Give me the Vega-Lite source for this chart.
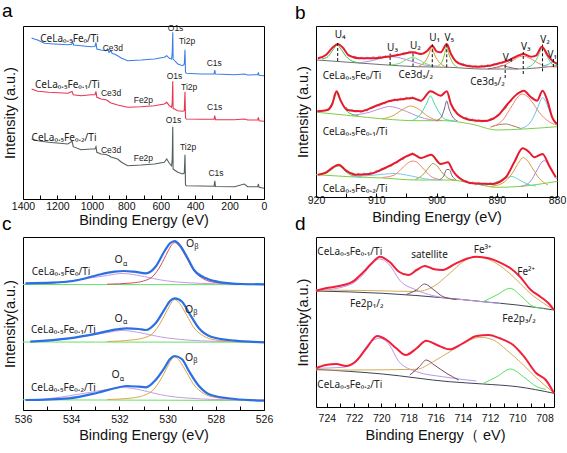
{
"$schema": "https://vega.github.io/schema/vega-lite/v6.json",
"padding": {"left": 1, "top": 1, "right": 0, "bottom": 0},
"autosize": {"type": "pad"},
"bounds": "flush",
"columns": 2,
"spacing": {"row": 38, "column": 52},
"resolve": {"scale": {"color": "independent"}},
"config": {
  "view": {"stroke": "#000", "strokeWidth": 1},
  "axis": {"grid": false, "domain": false, "tickColor": "#000", "tickSize": -4, "labelFont": "Liberation Sans", "labelFontSize": 10.5, "labelColor": "#111", "labelFlush": false, "labelOverlap": false, "titleFont": "Liberation Sans", "titleFontSize": 14.5, "titleFontWeight": "normal", "titleColor": "#111"},
  "axisY": {"ticks": false, "labels": false, "domain": false, "titlePadding": 6},
  "title": {"anchor": "start", "fontSize": 19, "fontWeight": "normal", "font": "Liberation Sans", "color": "#000", "offset": 3}
},
"datasets": {
"aL": [
{"s":"Fe0","E":1350,"h":161},{"s":"Fe0","E":1334,"h":160},{"s":"Fe0","E":1315,"h":159},{"s":"Fe0","E":1276,"h":155.7},{"s":"Fe0","E":1218,"h":155},{"s":"Fe0","E":1140,"h":154.3},{"s":"Fe0","E":1117,"h":154.8},{"s":"Fe0","E":1112,"h":157.5},{"s":"Fe0","E":1106,"h":154},{"s":"Fe0","E":1063,"h":153.3},{"s":"Fe0","E":1005,"h":152.3},{"s":"Fe0","E":982,"h":152.5},{"s":"Fe0","E":976,"h":156.5},{"s":"Fe0","E":971,"h":150},{"s":"Fe0","E":947,"h":149},{"s":"Fe0","E":918,"h":148.3},{"s":"Fe0","E":908,"h":150},{"s":"Fe0","E":900,"h":146.5},{"s":"Fe0","E":889,"h":148.3},{"s":"Fe0","E":882,"h":145.5},{"s":"Fe0","E":869,"h":145},{"s":"Fe0","E":850,"h":143.3},{"s":"Fe0","E":830,"h":141},{"s":"Fe0","E":792,"h":138.3},{"s":"Fe0","E":714,"h":139},{"s":"Fe0","E":637,"h":140},{"s":"Fe0","E":579,"h":141.7},{"s":"Fe0","E":565,"h":143.3},{"s":"Fe0","E":550,"h":140.7},{"s":"Fe0","E":537,"h":140},{"s":"Fe0","E":533,"h":146},{"s":"Fe0","E":530,"h":166.7},{"s":"Fe0","E":528,"h":140},{"s":"Fe0","E":520,"h":138.5},{"s":"Fe0","E":501,"h":135},{"s":"Fe0","E":472,"h":133.3},{"s":"Fe0","E":463,"h":135},{"s":"Fe0","E":459,"h":149.3},{"s":"Fe0","E":456,"h":127},{"s":"Fe0","E":451,"h":125.7},{"s":"Fe0","E":366,"h":125},{"s":"Fe0","E":290,"h":125},{"s":"Fe0","E":286,"h":129},{"s":"Fe0","E":282,"h":125},{"s":"Fe0","E":172,"h":124.3},{"s":"Fe0","E":114,"h":125},{"s":"Fe0","E":95,"h":124},{"s":"Fe0","E":36,"h":124.3},{"s":"Fe0","E":33,"h":126.7},{"s":"Fe0","E":28,"h":123.7},{"s":"Fe0","E":0,"h":123.3},
{"s":"Fe0.1","E":1350,"h":110},{"s":"Fe0.1","E":1315,"h":107.7},{"s":"Fe0.1","E":1250,"h":106.7},{"s":"Fe0.1","E":1140,"h":105.7},{"s":"Fe0.1","E":1115,"h":107.5},{"s":"Fe0.1","E":1108,"h":104.3},{"s":"Fe0.1","E":1063,"h":103.3},{"s":"Fe0.1","E":1005,"h":104.3},{"s":"Fe0.1","E":982,"h":104.3},{"s":"Fe0.1","E":976,"h":107.5},{"s":"Fe0.1","E":971,"h":101.7},{"s":"Fe0.1","E":947,"h":100},{"s":"Fe0.1","E":918,"h":99.3},{"s":"Fe0.1","E":908,"h":98.3},{"s":"Fe0.1","E":900,"h":97.3},{"s":"Fe0.1","E":889,"h":96},{"s":"Fe0.1","E":869,"h":95},{"s":"Fe0.1","E":850,"h":94},{"s":"Fe0.1","E":792,"h":91.7},{"s":"Fe0.1","E":714,"h":92.3},{"s":"Fe0.1","E":637,"h":93.3},{"s":"Fe0.1","E":579,"h":95},{"s":"Fe0.1","E":565,"h":96.7},{"s":"Fe0.1","E":550,"h":93.3},{"s":"Fe0.1","E":537,"h":91.7},{"s":"Fe0.1","E":533,"h":96},{"s":"Fe0.1","E":530,"h":117.7},{"s":"Fe0.1","E":528,"h":90.5},{"s":"Fe0.1","E":520,"h":90},{"s":"Fe0.1","E":501,"h":88.3},{"s":"Fe0.1","E":472,"h":87.7},{"s":"Fe0.1","E":463,"h":88.3},{"s":"Fe0.1","E":459,"h":107.3},{"s":"Fe0.1","E":456,"h":81},{"s":"Fe0.1","E":451,"h":80},{"s":"Fe0.1","E":366,"h":79.7},{"s":"Fe0.1","E":290,"h":79.7},{"s":"Fe0.1","E":286,"h":83.3},{"s":"Fe0.1","E":282,"h":79.3},{"s":"Fe0.1","E":172,"h":79.3},{"s":"Fe0.1","E":114,"h":80},{"s":"Fe0.1","E":95,"h":79},{"s":"Fe0.1","E":36,"h":79},{"s":"Fe0.1","E":33,"h":81.7},{"s":"Fe0.1","E":28,"h":78.3},{"s":"Fe0.1","E":0,"h":77.7},
{"s":"Fe0.2","E":1350,"h":60},{"s":"Fe0.2","E":1315,"h":58.3},{"s":"Fe0.2","E":1250,"h":56.7},{"s":"Fe0.2","E":1140,"h":55},{"s":"Fe0.2","E":1115,"h":57.7},{"s":"Fe0.2","E":1108,"h":52.3},{"s":"Fe0.2","E":1063,"h":49.3},{"s":"Fe0.2","E":1005,"h":50},{"s":"Fe0.2","E":982,"h":50},{"s":"Fe0.2","E":976,"h":52.3},{"s":"Fe0.2","E":971,"h":46.7},{"s":"Fe0.2","E":947,"h":45},{"s":"Fe0.2","E":918,"h":44.5},{"s":"Fe0.2","E":900,"h":43.3},{"s":"Fe0.2","E":889,"h":42},{"s":"Fe0.2","E":869,"h":41},{"s":"Fe0.2","E":850,"h":40},{"s":"Fe0.2","E":830,"h":37},{"s":"Fe0.2","E":792,"h":33.3},{"s":"Fe0.2","E":714,"h":34},{"s":"Fe0.2","E":637,"h":35},{"s":"Fe0.2","E":579,"h":36.7},{"s":"Fe0.2","E":565,"h":40},{"s":"Fe0.2","E":550,"h":35.7},{"s":"Fe0.2","E":537,"h":33},{"s":"Fe0.2","E":533,"h":40},{"s":"Fe0.2","E":530,"h":72.3},{"s":"Fe0.2","E":528,"h":30},{"s":"Fe0.2","E":520,"h":29},{"s":"Fe0.2","E":501,"h":26.7},{"s":"Fe0.2","E":472,"h":25},{"s":"Fe0.2","E":463,"h":26},{"s":"Fe0.2","E":459,"h":44.3},{"s":"Fe0.2","E":456,"h":14},{"s":"Fe0.2","E":451,"h":13.3},{"s":"Fe0.2","E":366,"h":13},{"s":"Fe0.2","E":290,"h":12.7},{"s":"Fe0.2","E":286,"h":18.3},{"s":"Fe0.2","E":282,"h":12.5},{"s":"Fe0.2","E":172,"h":12.3},{"s":"Fe0.2","E":114,"h":15},{"s":"Fe0.2","E":95,"h":12.3},{"s":"Fe0.2","E":36,"h":12.3},{"s":"Fe0.2","E":33,"h":15},{"s":"Fe0.2","E":28,"h":11.7},{"s":"Fe0.2","E":0,"h":10.7}
],
"aN": [
{"E":1300,"h":157.3,"t":"CeLa₀.₅Fe₀/Ti"},{"E":1330,"h":111,"t":"CeLa₀.₅Fe₀.₁/Ti"},{"E":1350,"h":57.7,"t":"CeLa₀.₅Fe₀.₂/Ti"}
],
"aP": [
{"E":937,"h":148.3,"t":"Ce3d"},{"E":559,"h":168.3,"t":"O1s"},{"E":494,"h":155,"t":"Ti2p"},{"E":333,"h":133.3,"t":"C1s"},
{"E":947,"h":103.3,"t":"Ce3d"},{"E":757,"h":96,"t":"Fe2p"},{"E":565,"h":120,"t":"O1s"},{"E":482,"h":109.3,"t":"Ti2p"},{"E":331,"h":89,"t":"C1s"},
{"E":947,"h":45.7,"t":"Ce3d"},{"E":757,"h":38.3,"t":"Fe2p"},{"E":571,"h":76,"t":"O1s"},{"E":488,"h":49.3,"t":"Ti2p"},{"E":323,"h":23.3,"t":"C1s"}
],
"bC": [
{"s":"t-base","E":919.8,"h":137},{"s":"t-base","E":914.5,"h":134.7},{"s":"t-base","E":908.9,"h":132.3},{"s":"t-base","E":903.4,"h":130.3},{"s":"t-base","E":897.9,"h":129.7},{"s":"t-base","E":892.3,"h":128},{"s":"t-base","E":886.8,"h":128},{"s":"t-base","E":879.9,"h":131.3},
{"s":"t-U4","E":919,"h":138},{"s":"t-U4","E":918,"h":140.5},{"s":"t-U4","E":917.2,"h":147},{"s":"t-U4","E":916.5,"h":152},{"s":"t-U4","E":915.8,"h":147.5},{"s":"t-U4","E":915,"h":140.5},{"s":"t-U4","E":914,"h":136},{"s":"t-U4","E":912.5,"h":134},
{"s":"t-U3","E":913,"h":134},{"s":"t-U3","E":911,"h":136},{"s":"t-U3","E":909,"h":139},{"s":"t-U3","E":907.8,"h":140.5},{"s":"t-U3","E":906,"h":139},{"s":"t-U3","E":904,"h":135.5},{"s":"t-U3","E":902,"h":132},{"s":"t-U3","E":900,"h":131},
{"s":"t-U2","E":908,"h":131.8},{"s":"t-U2","E":906,"h":134},{"s":"t-U2","E":905,"h":137.5},{"s":"t-U2","E":904,"h":139.5},{"s":"t-U2","E":903,"h":137.5},{"s":"t-U2","E":902,"h":134},{"s":"t-U2","E":900.5,"h":131},
{"s":"t-U1","E":903,"h":131},{"s":"t-U1","E":902,"h":134.5},{"s":"t-U1","E":901.3,"h":142},{"s":"t-U1","E":900.8,"h":149.5},{"s":"t-U1","E":900.3,"h":142},{"s":"t-U1","E":899.5,"h":134.5},{"s":"t-U1","E":898.5,"h":130.5},
{"s":"t-V5","E":900,"h":130.5},{"s":"t-V5","E":899.2,"h":134},{"s":"t-V5","E":898.7,"h":142},{"s":"t-V5","E":898.3,"h":151},{"s":"t-V5","E":897.9,"h":142},{"s":"t-V5","E":897.3,"h":134},{"s":"t-V5","E":896.5,"h":130},
{"s":"t-V4","E":891.5,"h":128},{"s":"t-V4","E":890,"h":129.8},{"s":"t-V4","E":889,"h":131.5},{"s":"t-V4","E":888,"h":129.8},{"s":"t-V4","E":886.5,"h":128},
{"s":"t-V3","E":890.5,"h":128.2},{"s":"t-V3","E":889,"h":131},{"s":"t-V3","E":887.5,"h":136},{"s":"t-V3","E":885.7,"h":141},{"s":"t-V3","E":884.3,"h":138},{"s":"t-V3","E":883,"h":133.5},{"s":"t-V3","E":881.5,"h":130.5},{"s":"t-V3","E":880,"h":130},
{"s":"t-V2","E":885,"h":129.5},{"s":"t-V2","E":883.8,"h":134},{"s":"t-V2","E":883,"h":142.5},{"s":"t-V2","E":882.4,"h":149.5},{"s":"t-V2","E":881.8,"h":142.5},{"s":"t-V2","E":881,"h":134},{"s":"t-V2","E":880,"h":130.5},
{"s":"t-V1","E":882.5,"h":130.5},{"s":"t-V1","E":881.5,"h":132.5},{"s":"t-V1","E":880.6,"h":135},{"s":"t-V1","E":880,"h":134.5},
{"s":"m-base","E":919.8,"h":84.7},{"s":"m-base","E":914.2,"h":81.3},{"s":"m-base","E":908.7,"h":78},{"s":"m-base","E":903.2,"h":76.3},{"s":"m-base","E":898.8,"h":76.3},{"s":"m-base","E":894.3,"h":73},{"s":"m-base","E":889.9,"h":67},{"s":"m-base","E":885.5,"h":68},{"s":"m-base","E":880,"h":70.3},
{"s":"m-U4","E":918.5,"h":86},{"s":"m-U4","E":917.5,"h":92},{"s":"m-U4","E":916.9,"h":100},{"s":"m-U4","E":916.6,"h":104},{"s":"m-U4","E":916.2,"h":100},{"s":"m-U4","E":915.5,"h":91},{"s":"m-U4","E":914.5,"h":84},{"s":"m-U4","E":913,"h":81.5},
{"s":"m-U3","E":914,"h":81.5},{"s":"m-U3","E":911,"h":85},{"s":"m-U3","E":909,"h":89},{"s":"m-U3","E":907.8,"h":90.5},{"s":"m-U3","E":906,"h":88},{"s":"m-U3","E":904,"h":83},{"s":"m-U3","E":902,"h":78.5},{"s":"m-U3","E":900,"h":76.5},
{"s":"m-U2","E":909,"h":78},{"s":"m-U2","E":907,"h":82},{"s":"m-U2","E":905.5,"h":88},{"s":"m-U2","E":904.3,"h":91},{"s":"m-U2","E":903,"h":88},{"s":"m-U2","E":901.5,"h":81},{"s":"m-U2","E":900,"h":77},{"s":"m-U2","E":899,"h":76.5},
{"s":"m-U1","E":904,"h":76.5},{"s":"m-U1","E":902.5,"h":84},{"s":"m-U1","E":901.6,"h":94},{"s":"m-U1","E":901,"h":101},{"s":"m-U1","E":900.4,"h":94},{"s":"m-U1","E":899.5,"h":84},{"s":"m-U1","E":898.5,"h":77.5},{"s":"m-U1","E":897,"h":76},
{"s":"m-V5","E":900,"h":76.3},{"s":"m-V5","E":899.2,"h":80},{"s":"m-V5","E":898.7,"h":88},{"s":"m-V5","E":898.3,"h":96},{"s":"m-V5","E":897.9,"h":88},{"s":"m-V5","E":897.3,"h":80},{"s":"m-V5","E":896.5,"h":76},
{"s":"m-V4","E":891,"h":70},{"s":"m-V4","E":889.5,"h":72.5},{"s":"m-V4","E":888.5,"h":73},{"s":"m-V4","E":887.5,"h":71.5},{"s":"m-V4","E":886,"h":68.5},
{"s":"m-V3","E":891,"h":70},{"s":"m-V3","E":889,"h":77},{"s":"m-V3","E":887.5,"h":91},{"s":"m-V3","E":886.5,"h":100},{"s":"m-V3","E":885.8,"h":103},{"s":"m-V3","E":885,"h":101},{"s":"m-V3","E":884,"h":94},{"s":"m-V3","E":883,"h":85},{"s":"m-V3","E":881.5,"h":76},{"s":"m-V3","E":880,"h":72},
{"s":"m-V2","E":886,"h":68.5},{"s":"m-V2","E":884.5,"h":74},{"s":"m-V2","E":883.3,"h":88},{"s":"m-V2","E":882.7,"h":97},{"s":"m-V2","E":882.4,"h":99.5},{"s":"m-V2","E":882,"h":97},{"s":"m-V2","E":881.3,"h":87},{"s":"m-V2","E":880.5,"h":76},{"s":"m-V2","E":880,"h":73},
{"s":"b-base","E":920,"h":22.3},{"s":"b-base","E":914.5,"h":20.3},{"s":"b-base","E":908.9,"h":19},{"s":"b-base","E":903.4,"h":17},{"s":"b-base","E":897.9,"h":17},{"s":"b-base","E":893.4,"h":13},{"s":"b-base","E":890.1,"h":9.7},{"s":"b-base","E":886.8,"h":10.3},{"s":"b-base","E":879.9,"h":15.7},
{"s":"b-U4","E":918.5,"h":23},{"s":"b-U4","E":917.5,"h":27},{"s":"b-U4","E":916.8,"h":30},{"s":"b-U4","E":916.3,"h":31},{"s":"b-U4","E":915.7,"h":29.5},{"s":"b-U4","E":915,"h":25},{"s":"b-U4","E":914,"h":21.5},{"s":"b-U4","E":912.5,"h":20},
{"s":"b-U3","E":914,"h":20.3},{"s":"b-U3","E":911,"h":21.5},{"s":"b-U3","E":908.5,"h":23},{"s":"b-U3","E":907,"h":23.5},{"s":"b-U3","E":905,"h":22},{"s":"b-U3","E":903,"h":19.5},{"s":"b-U3","E":901,"h":17.5},{"s":"b-U3","E":899,"h":17},
{"s":"b-U2","E":909,"h":19.5},{"s":"b-U2","E":907,"h":22},{"s":"b-U2","E":905.5,"h":30},{"s":"b-U2","E":904.5,"h":35},{"s":"b-U2","E":904,"h":36},{"s":"b-U2","E":903.3,"h":35},{"s":"b-U2","E":902.3,"h":29},{"s":"b-U2","E":901,"h":21},{"s":"b-U2","E":899.5,"h":17.5},
{"s":"b-U1","E":903.5,"h":17.5},{"s":"b-U1","E":902.3,"h":22},{"s":"b-U1","E":901.2,"h":30},{"s":"b-U1","E":900.6,"h":33.5},{"s":"b-U1","E":900,"h":31.5},{"s":"b-U1","E":899,"h":24},{"s":"b-U1","E":898,"h":18.5},{"s":"b-U1","E":897,"h":17},
{"s":"b-V5","E":899.5,"h":17.5},{"s":"b-V5","E":898.8,"h":21},{"s":"b-V5","E":898.3,"h":27.5},{"s":"b-V5","E":897.9,"h":27.5},{"s":"b-V5","E":897.4,"h":21},{"s":"b-V5","E":896.7,"h":17},
{"s":"b-V4","E":892,"h":11.5},{"s":"b-V4","E":890,"h":15},{"s":"b-V4","E":888.5,"h":19},{"s":"b-V4","E":887.5,"h":20.5},{"s":"b-V4","E":886.5,"h":18},{"s":"b-V4","E":885,"h":13},{"s":"b-V4","E":883.5,"h":11},
{"s":"b-V3","E":891,"h":10.5},{"s":"b-V3","E":889,"h":14},{"s":"b-V3","E":887.5,"h":23},{"s":"b-V3","E":886.3,"h":35},{"s":"b-V3","E":885.6,"h":39.5},{"s":"b-V3","E":885,"h":37},{"s":"b-V3","E":884,"h":28},{"s":"b-V3","E":883,"h":19},{"s":"b-V3","E":881.5,"h":12},
{"s":"b-V2","E":886,"h":10.5},{"s":"b-V2","E":884.5,"h":15},{"s":"b-V2","E":883.3,"h":27},{"s":"b-V2","E":882.5,"h":35},{"s":"b-V2","E":882.1,"h":36.3},{"s":"b-V2","E":881.5,"h":33},{"s":"b-V2","E":880.8,"h":25},{"s":"b-V2","E":880,"h":18}
],
"bG": [
{"s":"t1","E":914.5,"h":142.5},{"s":"t1","E":914,"h":140},{"s":"t1","E":913.5,"h":140.8},{"s":"t1","E":913,"h":138},{"s":"t1","E":912.5,"h":140},{"s":"t1","E":912,"h":137.8},{"s":"t1","E":911.5,"h":139.8},{"s":"t1","E":911,"h":138},{"s":"t1","E":910.5,"h":140.5},{"s":"t1","E":910,"h":138.5},{"s":"t1","E":909.5,"h":141},{"s":"t1","E":909,"h":139},{"s":"t1","E":908.5,"h":141.3},{"s":"t1","E":908,"h":139.8},{"s":"t1","E":907.5,"h":142},{"s":"t1","E":907,"h":140.8},{"s":"t1","E":906.5,"h":143.2},{"s":"t1","E":906,"h":141.8},{"s":"t1","E":905.5,"h":144.5},{"s":"t1","E":905,"h":143.2},{"s":"t1","E":904.5,"h":145.8},{"s":"t1","E":904,"h":144},{"s":"t1","E":903.5,"h":145.5},{"s":"t1","E":903,"h":143.2},{"s":"t1","E":902.5,"h":144.2},
{"s":"t2","E":896.5,"h":135.5},{"s":"t2","E":896,"h":132.5},{"s":"t2","E":895.5,"h":133.5},{"s":"t2","E":895,"h":130.5},{"s":"t2","E":894.5,"h":132},{"s":"t2","E":894,"h":129.8},{"s":"t2","E":893.5,"h":131.5},{"s":"t2","E":893,"h":129.5},{"s":"t2","E":892.5,"h":131.8},{"s":"t2","E":892,"h":130},{"s":"t2","E":891.5,"h":132.5},{"s":"t2","E":891,"h":130.5},{"s":"t2","E":890.5,"h":133.5},{"s":"t2","E":890,"h":132},{"s":"t2","E":889.5,"h":135},{"s":"t2","E":889,"h":133.5},{"s":"t2","E":888.5,"h":137},{"s":"t2","E":888,"h":135.5},{"s":"t2","E":887.5,"h":139},{"s":"t2","E":887,"h":138.8},{"s":"t2","E":886.5,"h":141.5},
{"s":"m1","E":915,"h":90},{"s":"m1","E":914.5,"h":86},{"s":"m1","E":914,"h":87.5},{"s":"m1","E":913.5,"h":84.8},{"s":"m1","E":913,"h":86.8},{"s":"m1","E":912.5,"h":84.5},{"s":"m1","E":912,"h":87.5},{"s":"m1","E":911.5,"h":86},{"s":"m1","E":911,"h":89.5},{"s":"m1","E":910.5,"h":88.8},{"s":"m1","E":910,"h":92},{"s":"m1","E":909.5,"h":91},{"s":"m1","E":909,"h":94},{"s":"m1","E":908.5,"h":93},{"s":"m1","E":908,"h":96.5},{"s":"m1","E":907.5,"h":95.3},{"s":"m1","E":907,"h":98},{"s":"m1","E":906.5,"h":96},{"s":"m1","E":906,"h":99},{"s":"m1","E":905.5,"h":97},{"s":"m1","E":905,"h":99.8},{"s":"m1","E":904.5,"h":98},{"s":"m1","E":904,"h":100.3},{"s":"m1","E":903.5,"h":97.5},{"s":"m1","E":903,"h":98},{"s":"m1","E":902.5,"h":95.3},
{"s":"m2","E":897,"h":88},{"s":"m2","E":896.5,"h":82},{"s":"m2","E":896,"h":81.5},{"s":"m2","E":895.5,"h":78.5},{"s":"m2","E":895,"h":80},{"s":"m2","E":894.5,"h":76},{"s":"m2","E":894,"h":78},{"s":"m2","E":893.5,"h":75},{"s":"m2","E":893,"h":77.5},{"s":"m2","E":892.5,"h":74.8},{"s":"m2","E":892,"h":77},{"s":"m2","E":891.5,"h":75.5},{"s":"m2","E":891,"h":79},{"s":"m2","E":890.5,"h":77.5},{"s":"m2","E":890,"h":82},{"s":"m2","E":889.5,"h":82.5},{"s":"m2","E":889,"h":87},{"s":"m2","E":888.5,"h":88.5},{"s":"m2","E":888,"h":95},{"s":"m2","E":887.5,"h":96},
{"s":"b1","E":915,"h":27.5},{"s":"b1","E":914.5,"h":23.5},{"s":"b1","E":914,"h":24.5},{"s":"b1","E":913.5,"h":21.5},{"s":"b1","E":913,"h":23.8},{"s":"b1","E":912.5,"h":21.8},{"s":"b1","E":912,"h":24},{"s":"b1","E":911.5,"h":22.3},{"s":"b1","E":911,"h":24.8},{"s":"b1","E":910.5,"h":23.5},{"s":"b1","E":910,"h":26.8},{"s":"b1","E":909.5,"h":25},{"s":"b1","E":909,"h":29},{"s":"b1","E":908.5,"h":28},{"s":"b1","E":908,"h":31.5},{"s":"b1","E":907.5,"h":30.5},{"s":"b1","E":907,"h":34.5},{"s":"b1","E":906.5,"h":34},{"s":"b1","E":906,"h":38},{"s":"b1","E":905.5,"h":37.5},{"s":"b1","E":905,"h":41.5},{"s":"b1","E":904.5,"h":41},{"s":"b1","E":904,"h":44.5},{"s":"b1","E":903.5,"h":41.8},{"s":"b1","E":903,"h":41},
{"s":"b2","E":897,"h":24},{"s":"b2","E":896.5,"h":19.5},{"s":"b2","E":896,"h":19},{"s":"b2","E":895.5,"h":15.5},{"s":"b2","E":895,"h":16.5},{"s":"b2","E":894.5,"h":13},{"s":"b2","E":894,"h":15},{"s":"b2","E":893.5,"h":12},{"s":"b2","E":893,"h":14.5},{"s":"b2","E":892.5,"h":11.8},{"s":"b2","E":892,"h":14},{"s":"b2","E":891.5,"h":12.3},{"s":"b2","E":891,"h":14.5},{"s":"b2","E":890.5,"h":12},{"s":"b2","E":890,"h":15},{"s":"b2","E":889.5,"h":14.5},{"s":"b2","E":889,"h":18.5},{"s":"b2","E":888.5,"h":19},{"s":"b2","E":888,"h":24.5}
],
"bE": [
{"s":"t","E":919.7,"h":138.7},{"s":"t","E":918.3,"h":142.3},{"s":"t","E":917.2,"h":149.7},{"s":"t","E":916.4,"h":153},{"s":"t","E":915.6,"h":149.7},{"s":"t","E":914.5,"h":141.3},{"s":"t","E":912.8,"h":138.7},{"s":"t","E":911.1,"h":138.7},{"s":"t","E":908.9,"h":139.7},{"s":"t","E":907.6,"h":140.7},{"s":"t","E":905.6,"h":143},{"s":"t","E":904,"h":144.7},{"s":"t","E":902.6,"h":143},{"s":"t","E":901.5,"h":146.3},{"s":"t","E":900.7,"h":151.3},{"s":"t","E":900,"h":145.7},{"s":"t","E":899.3,"h":144.7},{"s":"t","E":898.3,"h":153},{"s":"t","E":897.6,"h":143},{"s":"t","E":896.8,"h":135.7},{"s":"t","E":895.7,"h":132.3},{"s":"t","E":893.4,"h":130.3},{"s":"t","E":891.2,"h":131.3},{"s":"t","E":889.6,"h":133.7},{"s":"t","E":888.2,"h":136.3},{"s":"t","E":886.8,"h":140.3},{"s":"t","E":885.6,"h":143},{"s":"t","E":884.3,"h":140.3},{"s":"t","E":883.5,"h":141.3},{"s":"t","E":882.5,"h":150.3},{"s":"t","E":881.5,"h":141.3},{"s":"t","E":880.7,"h":135.7},{"s":"t","E":880,"h":133},
{"s":"m","E":919.8,"h":85.7},{"s":"m","E":918.1,"h":87},{"s":"m","E":917.3,"h":93},{"s":"m","E":916.6,"h":105.7},{"s":"m","E":915.9,"h":96.3},{"s":"m","E":914.8,"h":87},{"s":"m","E":912.6,"h":85.7},{"s":"m","E":910.4,"h":90.3},{"s":"m","E":907.6,"h":96.3},{"s":"m","E":905.4,"h":98},{"s":"m","E":904,"h":99},{"s":"m","E":902.6,"h":96.3},{"s":"m","E":901,"h":105.7},{"s":"m","E":899.3,"h":101.3},{"s":"m","E":898.3,"h":105.7},{"s":"m","E":897.6,"h":93},{"s":"m","E":896.5,"h":83},{"s":"m","E":894.3,"h":77},{"s":"m","E":892.1,"h":76},{"s":"m","E":889.9,"h":81},{"s":"m","E":888.2,"h":93},{"s":"m","E":886.6,"h":103},{"s":"m","E":885.5,"h":106.3},{"s":"m","E":884.4,"h":100.3},{"s":"m","E":883.3,"h":96.3},{"s":"m","E":882.4,"h":106.3},{"s":"m","E":881.6,"h":96.3},{"s":"m","E":880.8,"h":79.7},{"s":"m","E":880,"h":73},
{"s":"b","E":919.7,"h":22.3},{"s":"b","E":918.3,"h":24.7},{"s":"b","E":917.2,"h":29.7},{"s":"b","E":916.2,"h":32.3},{"s":"b","E":915,"h":26.3},{"s":"b","E":913.4,"h":22.3},{"s":"b","E":911.1,"h":23},{"s":"b","E":908.9,"h":28},{"s":"b","E":906.7,"h":34.7},{"s":"b","E":905.1,"h":40.3},{"s":"b","E":904,"h":43},{"s":"b","E":902.6,"h":39},{"s":"b","E":900.9,"h":42.3},{"s":"b","E":899.3,"h":33},{"s":"b","E":898.1,"h":34.7},{"s":"b","E":897.3,"h":26.3},{"s":"b","E":896.2,"h":19},{"s":"b","E":894,"h":13.7},{"s":"b","E":890.7,"h":13},{"s":"b","E":888.5,"h":19.7},{"s":"b","E":887.1,"h":34.7},{"s":"b","E":885.7,"h":48.7},{"s":"b","E":884.6,"h":44.7},{"s":"b","E":883.8,"h":39.7},{"s":"b","E":882.4,"h":43},{"s":"b","E":881.3,"h":31.3},{"s":"b","E":880.2,"h":19.7}
],
"bR": [
{"E":916.4,"h":136,"h2":155},{"E":907.7,"h":132,"h2":143.5},{"E":903.9,"h":130.5,"h2":145},{"E":900.7,"h":129.8,"h2":154},{"E":898.3,"h":129.7,"h2":154},{"E":888.6,"h":119,"h2":134},{"E":885.6,"h":123,"h2":145},{"E":882.4,"h":125.7,"h2":152.5},{"E":880.6,"h":130,"h2":138}
],
"bN": [
{"E":918.9,"h":118,"t":"CeLa₀.₅Fe₀/Ti"},{"E":906.3,"h":118.7,"t":"Ce3d₃/₂"},{"E":894.4,"h":112,"t":"Ce3d₅/₂"},{"E":918.9,"h":62.3,"t":"CeLa₀.₅Fe₀.₁/Ti"},{"E":918.9,"h":5,"t":"CeLa₀.₅Fe₀.₂/Ti"}
],
"bP": [
{"E":916,"h":159,"t":"U₄"},{"E":907.3,"h":145.7,"t":"U₃"},{"E":903.5,"h":148,"t":"U₂"},{"E":900.3,"h":156.3,"t":"U₁"},{"E":897.9,"h":156.3,"t":"V₅"},{"E":888.2,"h":136.3,"t":"V₄"},{"E":885.2,"h":147,"t":"V₃"},{"E":882,"h":153.7,"t":"V₂"},{"E":880.8,"h":139,"t":"V₁"}
],
"cC": [
{"s":"t-base","E":536,"h":125.5},{"s":"t-base","E":526,"h":125.3},
{"s":"t-a","E":535,"h":126},{"s":"t-a","E":534.4,"h":128},{"s":"t-a","E":533.5,"h":131},{"s":"t-a","E":532.5,"h":134.5},{"s":"t-a","E":531.9,"h":136.5},{"s":"t-a","E":531.3,"h":135},{"s":"t-a","E":530.6,"h":131.5},{"s":"t-a","E":530,"h":129},{"s":"t-a","E":529.2,"h":127.3},{"s":"t-a","E":528,"h":126.2},{"s":"t-a","E":527,"h":125.8},
{"s":"t-b","E":532.5,"h":125.8},{"s":"t-b","E":531.5,"h":127},{"s":"t-b","E":531,"h":129},{"s":"t-b","E":530.6,"h":134},{"s":"t-b","E":530.3,"h":144},{"s":"t-b","E":530,"h":158},{"s":"t-b","E":529.85,"h":164.5},{"s":"t-b","E":529.7,"h":167.5},{"s":"t-b","E":529.5,"h":163.5},{"s":"t-b","E":529.2,"h":151.5},{"s":"t-b","E":528.9,"h":139},{"s":"t-b","E":528.5,"h":131},{"s":"t-b","E":528,"h":127.5},{"s":"t-b","E":527,"h":126},{"s":"t-b","E":526,"h":125.7},
{"s":"m-base","E":536,"h":68},{"s":"m-base","E":526,"h":67.8},
{"s":"m-a","E":535.2,"h":68.5},{"s":"m-a","E":534.4,"h":70.5},{"s":"m-a","E":533.5,"h":73.5},{"s":"m-a","E":532.5,"h":77.5},{"s":"m-a","E":531.9,"h":79.5},{"s":"m-a","E":531.3,"h":78},{"s":"m-a","E":530.6,"h":74.5},{"s":"m-a","E":530,"h":72},{"s":"m-a","E":529.2,"h":70},{"s":"m-a","E":528,"h":68.7},{"s":"m-a","E":527,"h":68.3},
{"s":"m-b","E":532.5,"h":68.5},{"s":"m-b","E":531.5,"h":70},{"s":"m-b","E":531,"h":72},{"s":"m-b","E":530.6,"h":77},{"s":"m-b","E":530.3,"h":87},{"s":"m-b","E":530,"h":100.5},{"s":"m-b","E":529.85,"h":107},{"s":"m-b","E":529.7,"h":110.5},{"s":"m-b","E":529.5,"h":106.5},{"s":"m-b","E":529.2,"h":94.5},{"s":"m-b","E":528.9,"h":82},{"s":"m-b","E":528.5,"h":74},{"s":"m-b","E":528,"h":70},{"s":"m-b","E":527,"h":68.3},{"s":"m-b","E":526,"h":68},
{"s":"b-base","E":536,"h":10.2},{"s":"b-base","E":526,"h":9.5},
{"s":"b-a","E":535.2,"h":10.5},{"s":"b-a","E":534.4,"h":13},{"s":"b-a","E":533.5,"h":16.5},{"s":"b-a","E":532.5,"h":20.5},{"s":"b-a","E":531.9,"h":22.5},{"s":"b-a","E":531.3,"h":21},{"s":"b-a","E":530.6,"h":17},{"s":"b-a","E":530,"h":14},{"s":"b-a","E":529.2,"h":12},{"s":"b-a","E":528,"h":10.5},{"s":"b-a","E":527,"h":10},
{"s":"b-b","E":532.5,"h":10.5},{"s":"b-b","E":531.5,"h":12},{"s":"b-b","E":531,"h":14.5},{"s":"b-b","E":530.6,"h":20},{"s":"b-b","E":530.3,"h":30},{"s":"b-b","E":530,"h":43.5},{"s":"b-b","E":529.85,"h":50},{"s":"b-b","E":529.7,"h":53},{"s":"b-b","E":529.5,"h":49},{"s":"b-b","E":529.2,"h":37},{"s":"b-b","E":528.9,"h":25},{"s":"b-b","E":528.5,"h":16.5},{"s":"b-b","E":528,"h":12.5},{"s":"b-b","E":527,"h":10.5},{"s":"b-b","E":526,"h":10}
],
"cE": [
{"s":"t","E":535.9,"h":126.7},{"s":"t","E":534.8,"h":127.3},{"s":"t","E":533.7,"h":130},{"s":"t","E":532.9,"h":135},{"s":"t","E":532.2,"h":138.3},{"s":"t","E":531.8,"h":139},{"s":"t","E":531.4,"h":138.3},{"s":"t","E":530.9,"h":136.7},{"s":"t","E":530.5,"h":143.3},{"s":"t","E":530.1,"h":160},{"s":"t","E":529.9,"h":166.7},{"s":"t","E":529.7,"h":169},{"s":"t","E":529.5,"h":165},{"s":"t","E":529.2,"h":153.3},{"s":"t","E":528.9,"h":140},{"s":"t","E":528.4,"h":131.7},{"s":"t","E":527.8,"h":127.7},{"s":"t","E":526.9,"h":126},{"s":"t","E":526,"h":125.7},
{"s":"m","E":535.7,"h":68.3},{"s":"m","E":534.1,"h":71.7},{"s":"m","E":532.9,"h":76.7},{"s":"m","E":532.1,"h":80.7},{"s":"m","E":531.7,"h":81.7},{"s":"m","E":531.2,"h":81},{"s":"m","E":530.9,"h":80},{"s":"m","E":530.5,"h":86.7},{"s":"m","E":530.1,"h":101.7},{"s":"m","E":529.9,"h":109},{"s":"m","E":529.7,"h":111.7},{"s":"m","E":529.4,"h":108.3},{"s":"m","E":529.1,"h":96.7},{"s":"m","E":528.7,"h":81.7},{"s":"m","E":528.2,"h":73.3},{"s":"m","E":527.2,"h":69.3},{"s":"m","E":526,"h":67.7},
{"s":"b","E":535.9,"h":10},{"s":"b","E":534.1,"h":11.7},{"s":"b","E":532.9,"h":17.3},{"s":"b","E":532.2,"h":21.7},{"s":"b","E":531.7,"h":24},{"s":"b","E":531.2,"h":23.3},{"s":"b","E":530.9,"h":22.7},{"s":"b","E":530.5,"h":30},{"s":"b","E":530.1,"h":43.3},{"s":"b","E":529.9,"h":51},{"s":"b","E":529.7,"h":54},{"s":"b","E":529.4,"h":50.7},{"s":"b","E":529.1,"h":38.3},{"s":"b","E":528.7,"h":24},{"s":"b","E":528.2,"h":15},{"s":"b","E":527.2,"h":11},{"s":"b","E":526,"h":9.3}
],
"cN": [
{"E":535.64,"h":135,"t":"CeLa₀.₅Fe₀/Ti"},{"E":535.67,"h":77.3,"t":"CeLa₀.₅Fe₀.₁/Ti"},{"E":535.67,"h":19,"t":"CeLa₀.₅Fe₀.₂/Ti"}
],
"cO": [
{"E":532.2,"h":146.7,"t":"O","sub":"α"},{"E":529.24,"h":163.3,"t":"O","sub":"β"},
{"E":532.2,"h":88.3,"t":"O","sub":"α"},{"E":529.28,"h":97.3,"t":"O","sub":"β"},
{"E":532.33,"h":31.7,"t":"O","sub":"α"},{"E":529.28,"h":49.3,"t":"O","sub":"β"}
],
"dC": [
{"s":"t-base","E":724.8,"h":118},{"s":"t-base","E":719.9,"h":115.7},{"s":"t-base","E":715,"h":110.7},{"s":"t-base","E":712.5,"h":107.3},{"s":"t-base","E":710,"h":104},{"s":"t-base","E":707.3,"h":99},
{"s":"t-p","E":724.8,"h":118},{"s":"t-p","E":722.35,"h":124},{"s":"t-p","E":721.36,"h":134},{"s":"t-p","E":720.75,"h":144},{"s":"t-p","E":720.13,"h":150},{"s":"t-p","E":719.39,"h":144},{"s":"t-p","E":718.66,"h":129},{"s":"t-p","E":717.42,"h":119},{"s":"t-p","E":716.19,"h":113.3},{"s":"t-p","E":713.73,"h":109},{"s":"t-p","E":711.27,"h":105.5},
{"s":"t-g","E":724.8,"h":119},{"s":"t-g","E":721.1,"h":118.5},{"s":"t-g","E":717.42,"h":117.5},{"s":"t-g","E":716.19,"h":122.3},{"s":"t-g","E":714.96,"h":135.7},{"s":"t-g","E":713.98,"h":147.3},{"s":"t-g","E":713.11,"h":152.3},{"s":"t-g","E":712,"h":149},{"s":"t-g","E":711.02,"h":140.7},{"s":"t-g","E":710.04,"h":129},{"s":"t-g","E":709.05,"h":115.7},{"s":"t-g","E":708.06,"h":105.7},{"s":"t-g","E":707.28,"h":99},
{"s":"t-s","E":718.16,"h":114.5},{"s":"t-s","E":717.42,"h":119},{"s":"t-s","E":716.81,"h":125},{"s":"t-s","E":716.19,"h":119.7},{"s":"t-s","E":715.45,"h":112.3},{"s":"t-s","E":714.47,"h":109.5},
{"s":"t-f","E":712.5,"h":107.3},{"s":"t-f","E":711.51,"h":114},{"s":"t-f","E":710.53,"h":120.7},{"s":"t-f","E":709.67,"h":112.3},{"s":"t-f","E":708.8,"h":102.3},{"s":"t-f","E":708.06,"h":100.7},
{"s":"b-base","E":724.8,"h":39.7},{"s":"b-base","E":719.9,"h":35},{"s":"b-base","E":715,"h":27.3},{"s":"b-base","E":712.5,"h":25},{"s":"b-base","E":710,"h":22.3},{"s":"b-base","E":707.3,"h":15.7},
{"s":"b-p","E":724.8,"h":40.7},{"s":"b-p","E":722.8,"h":41.7},{"s":"b-p","E":721.6,"h":52.3},{"s":"b-p","E":720.9,"h":65.7},{"s":"b-p","E":720.1,"h":70.7},{"s":"b-p","E":719.4,"h":64},{"s":"b-p","E":718.7,"h":47.3},{"s":"b-p","E":717.4,"h":37.3},{"s":"b-p","E":715.5,"h":32.3},{"s":"b-p","E":713,"h":28},
{"s":"b-g","E":724.8,"h":39},{"s":"b-g","E":722.35,"h":39},{"s":"b-g","E":717.42,"h":39.7},{"s":"b-g","E":716.19,"h":47.3},{"s":"b-g","E":714.96,"h":57.3},{"s":"b-g","E":713.73,"h":67.3},{"s":"b-g","E":712.75,"h":71.7},{"s":"b-g","E":711.76,"h":69},{"s":"b-g","E":710.78,"h":59},{"s":"b-g","E":709.55,"h":44},{"s":"b-g","E":708.56,"h":30.7},{"s":"b-g","E":707.28,"h":15.7},
{"s":"b-s","E":717.9,"h":34},{"s":"b-s","E":717.2,"h":42.3},{"s":"b-s","E":716.7,"h":49},{"s":"b-s","E":716.1,"h":44},{"s":"b-s","E":715.2,"h":35.7},{"s":"b-s","E":714.3,"h":29},
{"s":"b-f","E":712.5,"h":25.7},{"s":"b-f","E":711.5,"h":32.3},{"s":"b-f","E":710.5,"h":40},{"s":"b-f","E":709.55,"h":32.3},{"s":"b-f","E":708.56,"h":22.3},{"s":"b-f","E":707.9,"h":19.7}
],
"dE": [
{"s":"t","E":724.8,"h":118},{"s":"t","E":724.1,"h":120.7},{"s":"t","E":723.1,"h":123},{"s":"t","E":722.1,"h":127.3},{"s":"t","E":721.4,"h":135.7},{"s":"t","E":720.7,"h":145.7},{"s":"t","E":720.1,"h":152.3},{"s":"t","E":719.4,"h":147.3},{"s":"t","E":718.7,"h":137.3},{"s":"t","E":718,"h":134},{"s":"t","E":717.4,"h":139},{"s":"t","E":716.8,"h":143},{"s":"t","E":716.1,"h":139.7},{"s":"t","E":715.5,"h":139},{"s":"t","E":714.5,"h":145.7},{"s":"t","E":713.6,"h":150.7},{"s":"t","E":713,"h":152.3},{"s":"t","E":712.1,"h":150.7},{"s":"t","E":711.3,"h":146.7},{"s":"t","E":710.5,"h":140.7},{"s":"t","E":709.8,"h":132.3},{"s":"t","E":709,"h":119},{"s":"t","E":708.3,"h":112.3},{"s":"t","E":707.7,"h":105.7},{"s":"t","E":707.3,"h":99},
{"s":"b","E":724.8,"h":40.7},{"s":"b","E":724.1,"h":44},{"s":"b","E":723.3,"h":45},{"s":"b","E":722.6,"h":43},{"s":"b","E":721.9,"h":47.3},{"s":"b","E":721.1,"h":60.7},{"s":"b","E":720.3,"h":73},{"s":"b","E":719.6,"h":69},{"s":"b","E":718.9,"h":60.7},{"s":"b","E":718.2,"h":54},{"s":"b","E":717.4,"h":60.7},{"s":"b","E":716.7,"h":68.3},{"s":"b","E":715.9,"h":64},{"s":"b","E":715,"h":59.7},{"s":"b","E":714,"h":65.7},{"s":"b","E":713,"h":73},{"s":"b","E":712.1,"h":74},{"s":"b","E":711.3,"h":70.7},{"s":"b","E":710.3,"h":64},{"s":"b","E":709.5,"h":52.3},{"s":"b","E":708.6,"h":35.7},{"s":"b","E":707.9,"h":29},{"s":"b","E":707.3,"h":15.7}
],
"dN": [
{"E":724.7,"h":154,"t":"CeLa₀.₅Fe₀.₁/Ti"},{"E":724.7,"h":20.7,"t":"CeLa₀.₅Fe₀.₂/Ti"},{"E":717.8,"h":150.7,"t":"satellite"},{"E":713.2,"h":156.3,"t":"Fe³⁺"},{"E":710,"h":134,"t":"Fe²⁺"},{"E":722.3,"h":102.3,"t":"Fe2p₁/₂"},{"E":711.1,"h":87.3,"t":"Fe2p₃/₂"}
]
},
"concat": [
{
  "width": 241, "height": 173,
  "title": {"text": "a"},
  "encoding": {
    "x": {"field": "E", "type": "quantitative", "scale": {"domain": [1400, 0], "nice": false, "zero": false},
          "axis": {"title": "Binding Energy (eV)", "values": [0,100,200,300,400,500,600,700,800,900,1000,1100,1200,1300,1400], "format": "d", "labelExpr": "datum.value % 200 === 0 ? datum.label : ''", "labelPadding": 6, "titlePadding": 2}},
    "y": {"field": "h", "type": "quantitative", "scale": {"domain": [0, 173], "nice": false, "zero": false}, "axis": {"title": "Intensity (a.u.)"}}
  },
  "layer": [
    {"data": {"name": "aL"}, "mark": {"type": "line", "strokeWidth": 1.1, "interpolate": "linear"},
     "encoding": {"color": {"field": "s", "type": "nominal", "legend": null, "scale": {"domain": ["Fe0","Fe0.1","Fe0.2"], "range": ["#3b7fe6","#ea3550","#52605f"]}}}},
    {"data": {"name": "aN"}, "mark": {"type": "text", "align": "left", "baseline": "alphabetic", "font": "Noto Sans", "fontSize": 10, "color": "#222"},
     "encoding": {"text": {"field": "t"}}},
    {"data": {"name": "aP"}, "mark": {"type": "text", "align": "left", "baseline": "alphabetic", "font": "Liberation Sans", "fontSize": 8.5, "color": "#222"},
     "encoding": {"text": {"field": "t"}}}
  ]
},
{
  "width": 241, "height": 171,
  "title": {"text": "b"},
  "encoding": {
    "x": {"field": "E", "type": "quantitative", "scale": {"domain": [920, 880], "nice": false, "zero": false},
          "axis": {"title": "Binding Energy (eV)", "values": [880,885,890,895,900,905,910,915,920], "labelExpr": "datum.value % 10 === 0 ? datum.label : ''", "labelPadding": 2, "titlePadding": 5}},
    "y": {"field": "h", "type": "quantitative", "scale": {"domain": [0, 171], "nice": false, "zero": false}, "axis": {"title": "Intensity (a.u.)"}}
  },
  "layer": [
    {"data": {"name": "bC"}, "mark": {"type": "line", "strokeWidth": 1, "interpolate": "monotone"},
     "encoding": {"color": {"field": "s", "type": "nominal", "legend": null, "scale": {
       "domain": ["t-base","t-U4","t-U3","t-U2","t-U1","t-V5","t-V4","t-V3","t-V2","t-V1","m-base","m-U4","m-U3","m-U2","m-U1","m-V5","m-V4","m-V3","m-V2","b-base","b-U4","b-U3","b-U2","b-U1","b-V5","b-V4","b-V3","b-V2"],
       "range": ["#707070","#3cc03c","#b48ce6","#6ee06e","#d4a030","#8cbc3c","#8a5a78","#f0886a","#4ee08a","#48c4d8","#7ccf4a","#3cc03c","#b890e0","#d8a040","#44d8a0","#7a5a8a","#a08050","#f08870","#70c0f0","#78d040","#4cc84c","#80c8e8","#f08870","#a0a040","#806080","#60d8c0","#d8a040","#a888e0"]}}}},
    {"data": {"name": "bG"}, "mark": {"type": "line", "strokeWidth": 0.8, "color": "#858585", "interpolate": "linear"},
     "encoding": {"detail": {"field": "s"}}},
    {"data": {"name": "bE"}, "mark": {"type": "line", "strokeWidth": 2, "color": "#e8192c", "interpolate": "monotone"},
     "encoding": {"detail": {"field": "s"}}},
    {"data": {"name": "bR"}, "mark": {"type": "rule", "strokeDash": [3, 2], "color": "#111", "strokeWidth": 1},
     "encoding": {"y2": {"field": "h2"}}},
    {"data": {"name": "bN"}, "mark": {"type": "text", "align": "left", "baseline": "alphabetic", "font": "Noto Sans", "fontSize": 10, "color": "#222"},
     "encoding": {"text": {"field": "t"}}},
    {"data": {"name": "bP"}, "mark": {"type": "text", "align": "center", "baseline": "alphabetic", "font": "Noto Sans", "fontSize": 10, "color": "#111"},
     "encoding": {"text": {"field": "t"}}}
  ]
},
{
  "width": 241, "height": 173,
  "title": {"text": "c"},
  "encoding": {
    "x": {"field": "E", "type": "quantitative", "scale": {"domain": [536, 526], "nice": false, "zero": false},
          "axis": {"title": "Binding Energy (eV)", "values": [526,527,528,529,530,531,532,533,534,535,536], "labelExpr": "datum.value % 2 === 0 ? datum.label : ''", "labelPadding": 8, "titlePadding": 4}},
    "y": {"field": "h", "type": "quantitative", "scale": {"domain": [0, 173], "nice": false, "zero": false}, "axis": {"title": "Intensity(a.u.)"}}
  },
  "layer": [
    {"data": {"name": "cC"}, "mark": {"type": "line", "strokeWidth": 1, "interpolate": "monotone"},
     "encoding": {"color": {"field": "s", "type": "nominal", "legend": null, "scale": {
       "domain": ["t-base","t-a","t-b","m-base","m-a","m-b","b-base","b-a","b-b"],
       "range": ["#66e066","#c49ce4","#d24a5c","#66e066","#c49ce4","#dca64a","#66e066","#c49ce4","#dca64a"]}}}},
    {"data": {"name": "cE"}, "mark": {"type": "line", "strokeWidth": 2.2, "color": "#2b6fe3", "interpolate": "monotone"},
     "encoding": {"detail": {"field": "s"}}},
    {"data": {"name": "cN"}, "mark": {"type": "text", "align": "left", "baseline": "alphabetic", "font": "Noto Sans", "fontSize": 10, "color": "#222"},
     "encoding": {"text": {"field": "t"}}},
    {"data": {"name": "cO"}, "mark": {"type": "text", "align": "left", "baseline": "alphabetic", "font": "Noto Sans", "fontSize": 10.5, "color": "#222"},
     "encoding": {"text": {"field": "t"}}},
    {"data": {"name": "cO"}, "mark": {"type": "text", "align": "left", "baseline": "alphabetic", "font": "Noto Sans", "fontSize": 7, "color": "#222", "dx": 8.3, "dy": 2.5},
     "encoding": {"text": {"field": "sub"}}}
  ]
},
{
  "width": 238, "height": 170,
  "title": {"text": "d"},
  "encoding": {
    "x": {"field": "E", "type": "quantitative", "scale": {"domain": [724.8, 707.3], "nice": false, "zero": false},
          "axis": {"title": "Binding Energy（ eV)", "values": [708,709,710,711,712,713,714,715,716,717,718,719,720,721,722,723,724], "labelExpr": "datum.value % 2 === 0 ? datum.label : ''", "labelPadding": 10, "titlePadding": 5}},
    "y": {"field": "h", "type": "quantitative", "scale": {"domain": [2, 172], "nice": false, "zero": false}, "axis": {"title": "Intensity(a.u.)"}}
  },
  "layer": [
    {"data": {"name": "dC"}, "mark": {"type": "line", "strokeWidth": 1, "interpolate": "monotone"},
     "encoding": {"color": {"field": "s", "type": "nominal", "legend": null, "scale": {
       "domain": ["t-base","t-p","t-g","t-s","t-f","b-base","b-p","b-g","b-s","b-f"],
       "range": ["#3c4454","#b898ec","#d8aa58","#7a4a5a","#58e058","#3c4454","#b898ec","#d8aa58","#7a4a5a","#58e058"]}}}},
    {"data": {"name": "dE"}, "mark": {"type": "line", "strokeWidth": 2, "color": "#f0203a", "interpolate": "monotone"},
     "encoding": {"detail": {"field": "s"}}},
    {"data": {"name": "dN"}, "mark": {"type": "text", "align": "left", "baseline": "alphabetic", "font": "Noto Sans", "fontSize": 10, "color": "#222"},
     "encoding": {"text": {"field": "t"}}}
  ]
}
]
}
